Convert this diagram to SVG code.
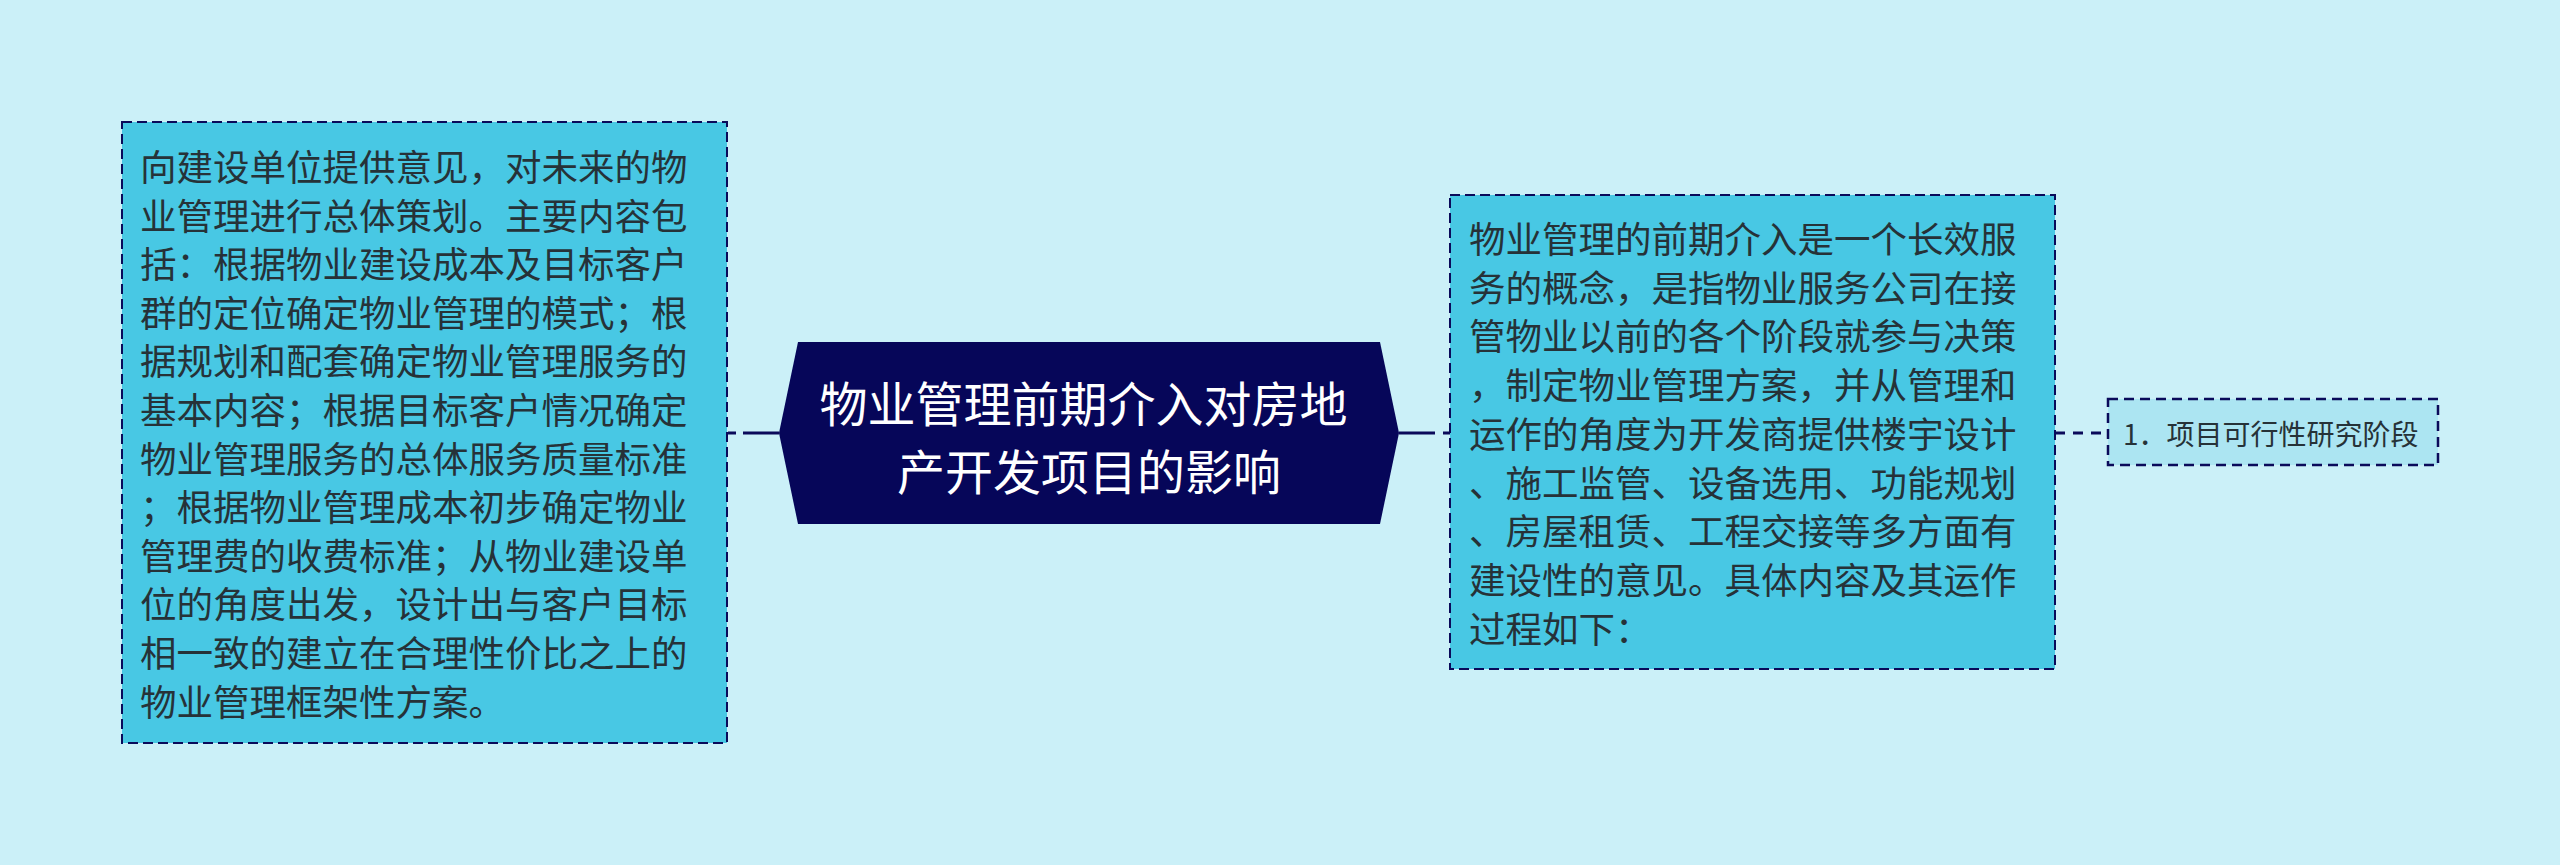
<svg xmlns="http://www.w3.org/2000/svg" width="2560" height="865" viewBox="0 0 2560 865">
<style>
.box{fill:#48c8e4;stroke:#0a0a5a;stroke-width:2;stroke-dasharray:10 5}
.sbox{fill:#ace5f2;stroke:#0a0a5a;stroke-width:2.5;stroke-dasharray:10 6}
.t{font-family:"Noto Sans CJK SC","Noto Sans",sans-serif;fill:#263238;dominant-baseline:central}
.bt{font-size:36.5px}
.ct{font-family:"Noto Sans CJK SC","Noto Sans",sans-serif;fill:#ffffff;font-size:48px;text-anchor:middle;dominant-baseline:central}
.c{stroke:#0a0a5a;stroke-width:3;fill:none}
</style>
<rect x="0" y="0" width="2560" height="865" fill="#cbf0f8"/>
<g id="connectors">
<line class="c" x1="728" y1="433" x2="736" y2="433"/>
<line class="c" x1="743" y1="433" x2="779" y2="433"/>
<line class="c" x1="1399" y1="433" x2="1435" y2="433"/>
<line class="c" x1="1443" y1="433" x2="1450" y2="433"/>
<line class="c" x1="2055" y1="433" x2="2108" y2="433" stroke-dasharray="10 8"/>
</g>
<g id="left">
<rect class="box" x="122" y="122" width="605" height="621"/>
<text class="t bt">
<tspan x="140" y="165">向建设单位提供意见，对未来的物</tspan>
<tspan x="140" y="213.6">业管理进行总体策划。主要内容包</tspan>
<tspan x="140" y="262.2">括：根据物业建设成本及目标客户</tspan>
<tspan x="140" y="310.8">群的定位确定物业管理的模式；根</tspan>
<tspan x="140" y="359.4">据规划和配套确定物业管理服务的</tspan>
<tspan x="140" y="408">基本内容；根据目标客户情况确定</tspan>
<tspan x="140" y="456.6">物业管理服务的总体服务质量标准</tspan>
<tspan x="140" y="505.2">；根据物业管理成本初步确定物业</tspan>
<tspan x="140" y="553.8">管理费的收费标准；从物业建设单</tspan>
<tspan x="140" y="602.4">位的角度出发，设计出与客户目标</tspan>
<tspan x="140" y="651">相一致的建立在合理性价比之上的</tspan>
<tspan x="140" y="699.6">物业管理框架性方案。</tspan>
</text>
</g>
<g id="center">
<polygon points="779,433 798,342 1380,342 1399,433 1380,524 798,524" fill="#060659"/>
<text class="ct">
<tspan x="1089" y="401">物业管理前期介入对房地</tspan>
<tspan x="1089" y="469">产开发项目的影响</tspan>
</text>
</g>
<g id="right">
<rect class="box" x="1450" y="195" width="605" height="474"/>
<text class="t bt">
<tspan x="1469" y="237">物业管理的前期介入是一个长效服</tspan>
<tspan x="1469" y="285.7">务的概念，是指物业服务公司在接</tspan>
<tspan x="1469" y="334.4">管物业以前的各个阶段就参与决策</tspan>
<tspan x="1469" y="383.1">，制定物业管理方案，并从管理和</tspan>
<tspan x="1469" y="431.8">运作的角度为开发商提供楼宇设计</tspan>
<tspan x="1469" y="480.5">、施工监管、设备选用、功能规划</tspan>
<tspan x="1469" y="529.2">、房屋租赁、工程交接等多方面有</tspan>
<tspan x="1469" y="577.9">建设性的意见。具体内容及其运作</tspan>
<tspan x="1469" y="626.6">过程如下：</tspan>
</text>
</g>
<g id="sub1">
<rect class="sbox" x="2108" y="399" width="330" height="66"/>
<text class="t" x="2123" y="433" font-size="28">1．项目可行性研究阶段</text>
</g>
</svg>
